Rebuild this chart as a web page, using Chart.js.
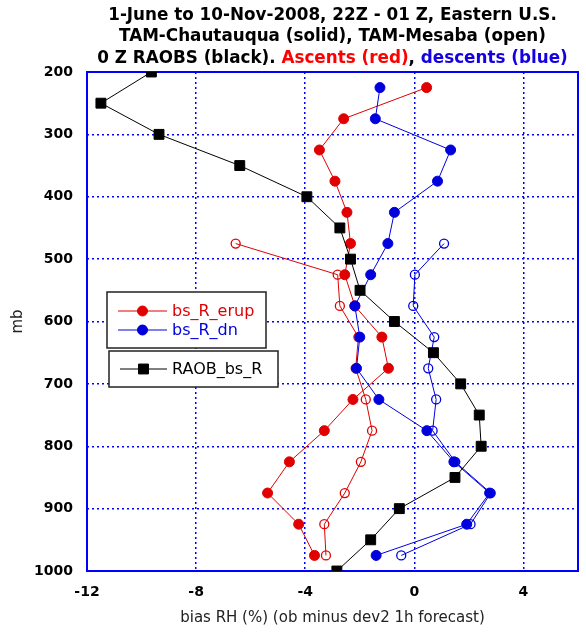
<!DOCTYPE html>
<html>
<head>
<meta charset="utf-8">
<script src="https://cdn.jsdelivr.net/npm/chart.js@4/dist/chart.umd.min.js"></script>
<style>
  html, body { margin: 0; padding: 0; background: #fff; }
  #wrap { width: 586px; height: 632px; }
</style>
</head>
<body>
<div id="wrap"><canvas id="myChart" width="586" height="632"></canvas></div>
<script>
// pressure levels (mb)
const levelsSolid = [225, 275, 325, 375, 425, 475, 525, 575, 625, 675, 725, 775, 825, 875, 925, 975];
const levelsOpen = [475, 525, 575, 625, 675, 725, 775, 825, 875, 925, 975];
const levelsRaob = [200, 250, 300, 350, 400, 450, 500, 550, 600, 650, 700, 750, 800, 850, 900, 950, 1000];

// bias RH (%) values
const erupSolid = [0.45, -2.59, -3.48, -2.91, -2.47, -2.34, -2.55, -2.18, -1.19, -0.95, -2.25, -3.3, -4.58, -5.38, -4.24, -3.66];
const dnSolid = [-1.26, -1.43, 1.33, 0.85, -0.73, -0.97, -1.6, -2.18, -2.0, -2.12, -1.3, 0.46, 1.45, 2.76, 1.92, -1.4];
const erupOpen = [-6.55, -2.81, -2.73, -2.05, -2.15, -1.78, -1.55, -1.96, -2.55, -3.3, -3.24];
const dnOpen = [1.09, 0.02, -0.04, 0.73, 0.51, 0.8, 0.67, 1.5, 2.8, 2.06, -0.48];
const raob = [-9.64, -11.49, -9.36, -6.4, -3.94, -2.73, -2.34, -1.99, -0.73, 0.70, 1.70, 2.38, 2.45, 1.49, -0.55, -1.6, -2.84];

const xTicks = [-12, -8, -4, 0, 4];
const yTicks = [200, 300, 400, 500, 600, 700, 800, 900, 1000];

const titleLines = [
    '1-June to 10-Nov-2008, 22Z - 01 Z, Eastern U.S.',
    'TAM-Chautauqua (solid), TAM-Mesaba (open)'
];
const titleLast = [
    ['0 Z RAOBS (black). ', '#000'],
    ['Ascents (red)', '#ff0000'],
    [', ', '#000'],
    ['descents (blue)', '#1400e0']
];

const RED = '#e00000';
const BLUE = '#0000dd';
const GRID = '#0000ff';

function pts(vals, levels) {
    return levels.map((p, i) => ({x: vals[i], y: p}));
}

let frame = {
    id: 'frame',
    beforeDatasetsDraw(chart) {
        let a = chart.chartArea;
        let ctx = chart.ctx;
        ctx.save();
        ctx.strokeStyle = GRID;
        ctx.lineWidth = 2;
        ctx.strokeRect(a.left, a.top, a.right - a.left, a.bottom - a.top);
        ctx.restore();
    }
};

let heading = {
    id: 'heading',
    afterDraw(chart) {
        let ctx = chart.ctx;
        let cx = (chart.chartArea.left + chart.chartArea.right) / 2;
        ctx.save();
        ctx.font = 'bold 16.8px "DejaVu Sans"';
        ctx.textBaseline = 'alphabetic';
        ctx.textAlign = 'center';
        ctx.fillStyle = '#000';
        ctx.fillText(titleLines[0], cx, 20);
        ctx.fillText(titleLines[1], cx, 41);
        ctx.textAlign = 'left';
        let total = titleLast.reduce((s, t) => s + ctx.measureText(t[0]).width, 0);
        let x = cx - total / 2;
        titleLast.forEach(t => {
            ctx.fillStyle = t[1];
            ctx.fillText(t[0], x, 63);
            x += ctx.measureText(t[0]).width;
        });
        ctx.restore();
    }
};

// legend boxes inside the plot, only the solid series
let boxes = {
    id: 'boxes',
    afterDraw(chart) {
        let ctx = chart.ctx;
        let ds = chart.data.datasets;
        let groups = [
            {rect: [107, 292, 159, 56], rows: [ds[2], ds[1]], y0: 311, step: 19, x0: 118},
            {rect: [109, 351, 169, 36], rows: [ds[0]], y0: 369, step: 19, x0: 120}
        ];
        ctx.save();
        groups.forEach(g => {
            ctx.fillStyle = '#fff';
            ctx.fillRect(...g.rect);
            ctx.strokeStyle = '#222';
            ctx.lineWidth = 1.5;
            ctx.strokeRect(...g.rect);
            g.rows.forEach((d, i) => {
                let y = g.y0 + i * g.step;
                ctx.strokeStyle = d.borderColor;
                ctx.lineWidth = 1;
                ctx.beginPath();
                ctx.moveTo(g.x0, y);
                ctx.lineTo(167, y);
                ctx.stroke();
                Chart.helpers.drawPoint(ctx, {
                    pointStyle: d.pointStyle,
                    radius: d.pointRadius,
                    borderWidth: 1,
                    rotation: 0
                }, (g.x0 + 167) / 2, y);
                ctx.fillStyle = d.borderColor;
                ctx.fill();
                ctx.font = '16px "DejaVu Sans"';
                ctx.textBaseline = 'middle';
                ctx.fillStyle = d.borderColor;
                ctx.fillText(d.label, 172, y + 1);
            });
        });
        ctx.restore();
    }
};

let chart = new Chart(document.getElementById('myChart').getContext('2d'), {
    type: 'scatter',
    data: {
        datasets: [
            {
                label: 'RAOB_bs_R',
                data: pts(raob, levelsRaob),
                borderColor: '#000',
                backgroundColor: '#000',
                pointStyle: 'rect',
                pointRadius: 7,
                borderWidth: 1
            },
            {
                label: 'bs_R_dn',
                data: pts(dnSolid, levelsSolid),
                borderColor: BLUE,
                backgroundColor: BLUE,
                pointStyle: 'circle',
                pointRadius: 5
            },
            {
                label: 'bs_R_erup',
                data: pts(erupSolid, levelsSolid),
                borderColor: RED,
                backgroundColor: RED,
                pointStyle: 'circle',
                pointRadius: 5
            },
            {
                label: 'bs_R_dn (open)',
                data: pts(dnOpen, levelsOpen),
                borderColor: BLUE,
                backgroundColor: 'rgba(0,0,0,0)',
                pointStyle: 'circle',
                pointRadius: 4.5,
                pointBorderWidth: 1.3
            },
            {
                label: 'bs_R_erup (open)',
                data: pts(erupOpen, levelsOpen),
                borderColor: RED,
                backgroundColor: 'rgba(0,0,0,0)',
                pointStyle: 'circle',
                pointRadius: 4.5,
                pointBorderWidth: 1.3
            }
        ]
    },
    options: {
        responsive: false,
        devicePixelRatio: 1,
        animation: false,
        showLine: true,
        elements: {
            line: {borderWidth: 1, tension: 0},
            point: {borderWidth: 1}
        },
        layout: {padding: {top: 72, right: 5, left: 0, bottom: 0}},
        plugins: {
            legend: {display: false},
            tooltip: {enabled: false},
            title: {display: false}
        },
        scales: {
            x: {
                type: 'linear',
                min: -12,
                max: 6,
                afterBuildTicks: (s) => { s.ticks = xTicks.map(v => ({value: v})); },
                afterFit: (s) => { s.height = 61; },
                border: {display: false, dash: [2, 3]},
                grid: {color: GRID, lineWidth: 1.5, drawTicks: false},
                ticks: {
                    padding: 13,
                    color: '#000',
                    font: {family: 'DejaVu Sans', size: 14, weight: 'bold'},
                    callback: (v) => String(v)
                },
                title: {
                    display: true,
                    text: 'bias RH (%) (ob minus dev2 1h forecast)',
                    color: '#222',
                    font: {family: 'DejaVu Sans', size: 15},
                    padding: {top: 0, bottom: 5}
                }
            },
            y: {
                type: 'linear',
                reverse: true,
                min: 200,
                max: 1000,
                afterBuildTicks: (s) => { s.ticks = yTicks.map(v => ({value: v})); },
                afterFit: (s) => { s.width = 87; },
                border: {display: false, dash: [2, 3]},
                grid: {color: GRID, lineWidth: 1.5, drawTicks: false},
                ticks: {
                    padding: 14,
                    color: '#000',
                    font: {family: 'DejaVu Sans', size: 14, weight: 'bold'},
                    callback: (v) => String(v)
                },
                title: {
                    display: true,
                    text: 'mb',
                    color: '#222',
                    font: {family: 'DejaVu Sans', size: 15},
                    padding: {top: 9, bottom: 0}
                }
            }
        }
    },
    plugins: [frame, heading, boxes]
});
</script>
</body>
</html>
